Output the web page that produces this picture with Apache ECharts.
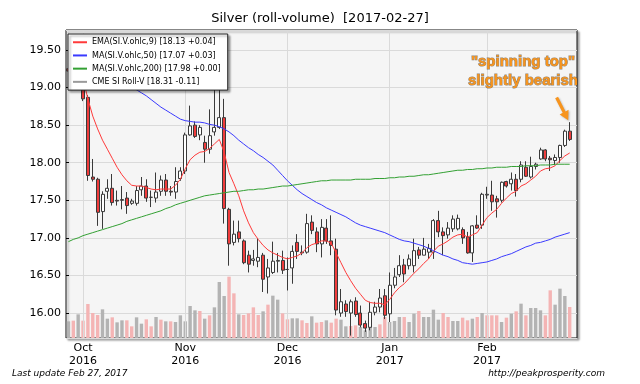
<!DOCTYPE html>
<html><head><meta charset="utf-8">
<script src="https://cdn.jsdelivr.net/npm/echarts@6/dist/echarts.min.js"></script>
<style>html,body{margin:0;padding:0;background:#fff}#c{width:640px;height:384px}</style>
</head><body><div id="c"></div>
<script>
const titleText = 'Silver (roll-volume)  [2017-02-27]';
const legendNames = ['EMA(SI.V.ohlc,9) [18.13 +0.04]', 'MA(SI.V.ohlc,50) [17.07 +0.03]', 'MA(SI.V.ohlc,200) [17.98 +0.00]', 'CME SI Roll-V [18.31 -0.11]'];
const monthNames = ['Jan','Feb','Mar','Apr','May','Jun','Jul','Aug','Sep','Oct','Nov','Dec'];
const dates = ['2016-09-28','2016-09-29','2016-09-30',
'2016-10-03','2016-10-04','2016-10-05','2016-10-06','2016-10-07','2016-10-10','2016-10-11','2016-10-12','2016-10-13','2016-10-14','2016-10-17','2016-10-18','2016-10-19','2016-10-20','2016-10-21','2016-10-24','2016-10-25','2016-10-26','2016-10-27','2016-10-28','2016-10-31',
'2016-11-01','2016-11-02','2016-11-03','2016-11-04','2016-11-07','2016-11-08','2016-11-09','2016-11-10','2016-11-11','2016-11-14','2016-11-15','2016-11-16','2016-11-17','2016-11-18','2016-11-21','2016-11-22','2016-11-23','2016-11-25','2016-11-28','2016-11-29','2016-11-30',
'2016-12-01','2016-12-02','2016-12-05','2016-12-06','2016-12-07','2016-12-08','2016-12-09','2016-12-12','2016-12-13','2016-12-14','2016-12-15','2016-12-16','2016-12-19','2016-12-20','2016-12-21','2016-12-22','2016-12-23','2016-12-27','2016-12-28','2016-12-29','2016-12-30',
'2017-01-03','2017-01-04','2017-01-05','2017-01-06','2017-01-09','2017-01-10','2017-01-11','2017-01-12','2017-01-13','2017-01-17','2017-01-18','2017-01-19','2017-01-20','2017-01-23','2017-01-24','2017-01-25','2017-01-26','2017-01-27','2017-01-30','2017-01-31',
'2017-02-01','2017-02-02','2017-02-03','2017-02-06','2017-02-07','2017-02-08','2017-02-09','2017-02-10','2017-02-13','2017-02-14','2017-02-15','2017-02-16','2017-02-17','2017-02-21','2017-02-22','2017-02-23','2017-02-24','2017-02-27','2017-02-28'];

const opens = [19.25,19.22,19.28,19.15,18.87,17.81,17.78,17.35,17.62,17.66, 17.50,17.50,17.53,17.46,17.46,17.64,17.69,17.54,17.53,17.62, 17.77,17.62,17.61,17.79,17.89,18.37,18.50,18.37,18.27,18.18, 18.41,18.47,18.60,17.38,16.94,17.08,16.96,16.77,16.70,16.69, 16.77,16.48,16.54,16.69,16.70,16.58,16.60,16.94,16.80,16.81, 17.21,17.08,16.92,17.13,16.96,16.85,16.00,16.12,16.00,16.16, 16.00,15.86,15.81,16.01,16.08,16.23,15.99,16.37,16.51,16.64, 16.63,16.63,16.84,16.77,16.81,16.81,17.23,17.08,17.04,17.12, 17.12,17.11,17.01,16.80,17.17,17.17,17.57,17.57,17.52,17.50, 17.75,17.72,17.78,17.78,17.94,17.81,17.95,18.05,18.17,18.06, 18.03,18.07,18.23,18.42];
const highs = [19.35,19.40,19.35,19.22,18.90,18.05,17.80,17.62,17.78,17.85, 17.63,17.69,17.61,17.52,17.69,17.81,17.78,17.63,17.87,17.83, 17.85,17.69,17.94,17.94,18.40,18.76,18.55,18.50,18.36,18.71, 19.20,19.10,18.85,17.40,17.23,17.23,16.98,16.83,16.84,16.99, 16.80,16.72,16.95,16.80,16.83,16.74,16.90,17.05,16.90,17.32, 17.30,17.14,17.25,17.25,17.30,16.99,16.32,16.17,16.18,16.21, 16.10,15.90,16.15,16.15,16.32,16.32,16.54,16.60,16.77,16.72, 16.78,16.99,16.88,17.00,16.92,17.25,17.36,17.14,17.21,17.30, 17.31,17.14,17.08,17.17,17.30,17.60,17.68,17.76,17.56,17.75, 17.76,17.87,17.85,18.02,18.02,18.08,18.00,18.20,18.18,18.09, 18.11,18.24,18.44,18.54];
const lows = [19.15,19.15,19.10,18.82,17.76,17.75,17.16,17.12,17.52,17.43, 17.43,17.38,17.32,17.44,17.43,17.56,17.48,17.41,17.47,17.56, 17.56,17.56,17.52,17.76,17.85,18.36,18.33,18.30,18.00,18.12, 18.36,18.45,17.19,16.63,16.90,16.94,16.65,16.54,16.63,16.61, 16.28,16.26,16.52,16.54,16.52,16.30,16.39,16.72,16.77,16.79, 17.05,16.81,16.74,16.92,16.77,15.97,15.95,15.95,15.70,15.95, 15.81,15.75,15.77,15.97,16.01,15.92,15.88,16.33,16.48,16.41, 16.58,16.54,16.72,16.77,16.72,16.72,17.01,16.77,16.99,17.08, 17.10,16.92,16.79,16.68,17.12,17.12,17.52,17.36,17.27,17.47, 17.67,17.63,17.55,17.74,17.81,17.79,17.91,18.04,18.02,17.89, 17.97,18.00,18.21,18.29];
const closes = [19.22,19.28,19.20,18.85,17.83,17.78,17.34,17.58,17.66,17.47, 17.49,17.51,17.43,17.49,17.63,17.69,17.53,17.54,17.61,17.77, 17.62,17.61,17.75,17.89,18.37,18.49,18.35,18.47,18.18,18.36, 18.47,18.60,17.39,16.92,17.05,16.99,16.67,16.65,16.72,16.74, 16.45,16.60,16.69,16.70,16.57,16.58,16.82,16.82,16.81,17.19, 17.10,16.92,17.14,16.96,16.90,16.04,16.15,16.02,16.15,15.98, 15.84,15.80,16.01,16.08,16.20,15.97,16.37,16.48,16.63,16.52, 16.72,16.83,16.77,16.85,16.86,17.23,17.08,17.03,17.13,17.25, 17.26,17.00,16.80,17.16,17.13,17.58,17.58,17.48,17.48,17.74, 17.69,17.78,17.63,17.97,17.82,17.95,17.98,18.17,18.05,18.04, 18.07,18.23,18.42,18.31];

const volumes = [50,52,71,52,102,75,69,86,58,62, 47,53,53,35,62,43,56,35,63,55, 50,50,48,68,50,96,83,81,58,68, 92,168,126,184,134,71,69,74,92,69, 80,100,127,115,74,56,59,59,53,45, 65,46,48,53,46,58,55,35,36,38, 33,23,48,33,41,63,48,51,63,63, 48,73,81,63,63,85,55,75,63,51, 51,61,53,58,63,75,68,68,68,48, 61,73,80,103,68,90,90,83,68,143, 100,148,126,93];
const volumeDir = [1,-1,1,-1,-1,-1,-1,1,1,-1, 1,1,-1,-1,1,1,-1,-1,1,-1, 1,-1,1,1,1,1,1,-1,1,-1, 1,1,1,-1,-1,1,-1,-1,-1,-1, 1,-1,1,1,-1,-1,1,1,-1,-1, 1,-1,-1,1,-1,-1,1,1,-1,-1, 1,1,1,1,-1,-1,1,1,1,-1, 1,1,-1,1,1,1,1,-1,-1,1, 1,-1,-1,1,-1,1,-1,-1,-1,1, -1,1,-1,1,-1,1,1,1,-1,-1, 1,1,1,-1];

const ema9 = [19.26,19.26,19.25,19.12,18.85,18.62,18.45,18.30,18.18,18.06, 17.94,17.84,17.76,17.70,17.69,17.69,17.67,17.65,17.64,17.65, 17.65,17.65,17.70,17.78,17.92,18.04,18.10,18.14,18.15,18.19, 18.25,18.31,18.14,17.87,17.72,17.56,17.36,17.20,17.07,16.98, 16.90,16.84,16.80,16.77,16.74,16.72,16.74,16.76,16.80,16.87, 16.91,16.93,16.96,16.96,16.93,16.80,16.67,16.54,16.43,16.33, 16.25,16.17,16.14,16.13,16.13,16.11,16.18,16.27,16.34,16.39, 16.46,16.53,16.59,16.66,16.72,16.82,16.89,16.92,16.96,17.01, 17.04,17.05,17.01,17.04,17.07,17.17,17.27,17.33,17.38,17.46, 17.53,17.59,17.62,17.69,17.72,17.77,17.82,17.89,17.92,17.93, 17.96,18.03,18.09,18.13];
const ma50 = [19.50,19.47,19.43,19.40,19.36,19.32,19.28,19.25,19.21,19.17, 19.13,19.09,19.05,19.01,18.97,18.93,18.89,18.84,18.79,18.74, 18.70,18.66,18.62,18.58,18.56,18.55,18.54,18.54,18.53,18.51, 18.50,18.48,18.45,18.41,18.36,18.30,18.25,18.20,18.16,18.11, 18.07,18.02,17.97,17.90,17.83,17.76,17.70,17.64,17.59,17.55, 17.51,17.47,17.44,17.40,17.37,17.34,17.31,17.28,17.24,17.20, 17.17,17.15,17.13,17.11,17.09,17.07,17.04,17.01,16.98,16.96, 16.95,16.93,16.91,16.89,16.86,16.83,16.80,16.77,16.75,16.72, 16.70,16.67,16.66,16.65,16.66,16.67,16.68,16.70,16.72,16.75, 16.77,16.79,16.82,16.85,16.88,16.90,16.93,16.94,16.96,16.98, 17.01,17.03,17.05,17.07];
const ma200 = [16.95,16.98,17.00,17.03,17.05,17.07,17.09,17.11,17.13,17.15, 17.17,17.19,17.22,17.24,17.26,17.28,17.30,17.32,17.34,17.36, 17.39,17.41,17.44,17.46,17.48,17.50,17.52,17.54,17.56,17.57, 17.58,17.59,17.60,17.61,17.62,17.62,17.63,17.64,17.64,17.65, 17.65,17.66,17.67,17.68,17.69,17.69,17.70,17.71,17.72,17.73, 17.74,17.75,17.76,17.76,17.77,17.77,17.77,17.77,17.77,17.78, 17.78,17.78,17.78,17.79,17.79,17.79,17.80,17.80,17.81,17.81, 17.82,17.82,17.83,17.84,17.84,17.85,17.86,17.87,17.88,17.89, 17.90,17.90,17.91,17.91,17.92,17.92,17.93,17.93,17.94,17.94, 17.94,17.95,17.95,17.95,17.96,17.96,17.96,17.97,17.97,17.97, 17.98,17.98,17.98,17.98];

const annotationText = '"spinning top"\nslightly bearish';
const footerLeft = 'Last update Feb 27, 2017';
const footerRight = 'http://peakprosperity.com';

const FONT = '"DejaVu Sans", sans-serif';
const isMonthStart = (idx) => idx > 0 && dates[idx].slice(5, 7) !== dates[idx - 1].slice(5, 7);
const monthStarts = dates.map((d, i) => i).filter(isMonthStart);

const chart = echarts.init(document.getElementById('c'), null, {renderer: 'canvas'});
const option = {
  animation: false,
  backgroundColor: '#ffffff',
  title: {
    text: titleText, left: 'center', top: 12, padding: 0,
    textStyle: {fontFamily: FONT, fontSize: 13, fontWeight: 'normal', color: '#000'}
  },
  legend: {
    z: 50, zlevel: 0,
    data: [
      {name: legendNames[0], icon: 'rect'},
      {name: legendNames[1], icon: 'rect'},
      {name: legendNames[2], icon: 'rect'},
      {name: legendNames[3], icon: 'rect', itemStyle: {color: '#9a9a9a', borderWidth: 0}}
    ],
    orient: 'vertical', left: 68, top: 34,
    itemWidth: 14, itemHeight: 2, itemGap: 2.7,
    padding: [3, 7, 3, 5],
    backgroundColor: '#ffffff', borderColor: '#222', borderWidth: 1,
    shadowColor: 'rgba(0,0,0,0.35)', shadowBlur: 2, shadowOffsetX: 2, shadowOffsetY: 2,
    selectedMode: false,
    textStyle: {fontFamily: FONT, fontSize: 8, color: '#000', lineHeight: 10.5, padding: [0, 0, 0, 0]}
  },
  grid: {
    left: 66, right: 63, top: 30, bottom: 46, show: true,
    backgroundColor: '#f5f5f5', borderColor: '#111', borderWidth: 1,
    shadowColor: 'rgba(0,0,0,0.35)', shadowBlur: 2, shadowOffsetX: 2, shadowOffsetY: 2
  },
  xAxis: {
    type: 'category', data: dates, boundaryGap: true,
    axisLine: {show: false},
    axisTick: {show: true, inside: true, length: 3, alignWithLabel: true, interval: (i) => isMonthStart(i), lineStyle: {color: '#000'}},
    axisLabel: {
      interval: (i) => isMonthStart(i), margin: 4,
      fontFamily: FONT, fontSize: 11, color: '#000', lineHeight: 13,
      formatter: (v) => monthNames[+v.slice(5, 7) - 1] + '\n' + v.slice(0, 4)
    },
    splitLine: {show: false}
  },
  yAxis: [
    {
      type: 'value', min: 15.668, max: 19.766, splitNumber: 8, scale: true,
      axisLine: {show: false},
      axisTick: {show: true, inside: true, length: 3, lineStyle: {color: '#000'}},
      axisLabel: {fontFamily: FONT, fontSize: 11, color: '#000', margin: 5, showMinLabel: false, showMaxLabel: false, formatter: (v) => v.toFixed(2)},
      splitLine: {show: true, lineStyle: {color: '#dadada', width: 1}}
    },
    {type: 'value', min: 0, max: 924, show: false, splitLine: {show: false}}
  ],
  series: [
    {
      type: 'bar', name: 'volume', yAxisIndex: 1, barWidth: 3.4, z: 1, silent: true,
      data: volumes.map((v, i) => ({value: v, itemStyle: {color: volumeDir[i] > 0 ? '#b3b3b3' : '#f4b4b4'}})),
      markLine: {
        silent: true, symbol: ['none', 'none'], label: {show: false},
        lineStyle: {color: '#dadada', type: 'solid', width: 1},
        data: monthStarts.map((i) => ({xAxis: dates[i]}))
      }
    },
    {
      type: 'candlestick', name: legendNames[3], barWidth: 3.5, z: 5,
      data: opens.map((o, i) => [o, closes[i], lows[i], highs[i]]),
      itemStyle: {color: '#ffffff', color0: '#f03c3c', borderColor: '#3a3a3a', borderColor0: '#3a3a3a', borderWidth: 1}
    },
    {type: 'line', name: legendNames[0], data: ema9, color: '#ff3a3a', showSymbol: false, z: 6, lineStyle: {width: 1}},
    {type: 'line', name: legendNames[1], data: ma50, color: '#3a3aff', showSymbol: false, z: 6, lineStyle: {width: 1}},
    {type: 'line', name: legendNames[2], data: ma200, color: '#33a033', showSymbol: false, z: 6, lineStyle: {width: 1}}
  ],
  graphic: [
    {type: 'text', id: 'fl', left: 12, top: 369, style: {text: footerLeft, font: 'italic 9px "DejaVu Sans"', fill: '#000'}},
    {type: 'text', id: 'fr', right: 35, top: 369, style: {text: footerRight, font: 'italic 9px "DejaVu Sans"', fill: '#000'}},
    {type: 'text', id: 'ann', x: 523, y: 52, z: 100,
      style: {text: annotationText, font: 'bold 15px "Liberation Sans", Arial, sans-serif', fill: '#f7941d',
        align: 'center', verticalAlign: 'top', lineHeight: 19,
        stroke: 'rgba(60,35,0,0.55)', lineWidth: 1, strokeFirst: true,
        shadowColor: 'rgba(0,0,0,0.85)', shadowBlur: 2, shadowOffsetX: 1.5, shadowOffsetY: 1.5}}
  ]
};
chart.setOption(option);

// annotation arrow pointing at the last candle's high
const last = opens.length - 1;
const p = chart.convertToPixel({xAxisIndex: 0, yAxisIndex: 0}, [dates[last], highs[last]]);
const tip = [p[0] - 1.5, p[1] - 2];
const vx = 11.6, vy = 22.7, len = Math.hypot(vx, vy);
const d = [vx / len, vy / len], n = [-d[1], d[0]];
const tail = [tip[0] - vx, tip[1] - vy];
const neck = [tip[0] - d[0] * 9, tip[1] - d[1] * 9];
const pt = (b, s) => [b[0] + n[0] * s, b[1] + n[1] * s];
chart.setOption({graphic: [{
  type: 'polygon', id: 'arrow', z: 100,
  shape: {points: [pt(tail, 1.6), pt(neck, 1.6), pt(neck, 5), tip, pt(neck, -5), pt(neck, -1.6), pt(tail, -1.6)]},
  style: {fill: '#f7941d', shadowColor: 'rgba(0,0,0,0.25)', shadowBlur: 2, shadowOffsetX: 1, shadowOffsetY: 1}
}]});
</script>
</body></html>
